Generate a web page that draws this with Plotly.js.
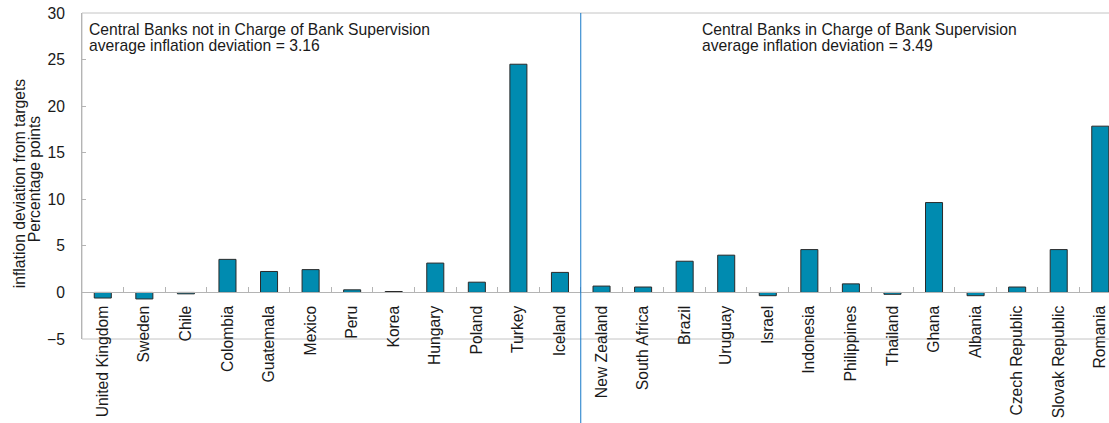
<!DOCTYPE html>
<html>
<head>
<meta charset="utf-8">
<script src="https://cdn.plot.ly/plotly-3.0.1.min.js"></script>
<style>html,body{margin:0;padding:0;background:#fff;overflow:hidden;}</style>
</head>
<body>
<div id="chart" style="width:1109px;height:423px;"></div>
<script>
const countries = ["United Kingdom","Sweden","Chile","Colombia","Guatemala","Mexico","Peru","Korea","Hungary","Poland","Turkey","Iceland",
  "New Zealand","South Africa","Brazil","Uruguay","Israel","Indonesia","Philippines","Thailand","Ghana","Albania","Czech Republic","Slovak Republic","Romania"];
const deviation = [-0.6,-0.7,-0.15,3.55,2.25,2.45,0.28,0.1,3.15,1.1,24.5,2.15,
  0.68,0.58,3.35,4.0,-0.35,4.6,0.92,-0.2,9.65,-0.35,0.58,4.6,17.85];
const yTicks = [-5,0,5,10,15,20,25,30];
const group1Lines = ["Central Banks not in Charge of Bank Supervision","average inflation deviation = 3.16"];
const group2Lines = ["Central Banks in Charge of Bank Supervision","average inflation deviation = 3.49"];
const yTitleLines = ["inflation deviation from targets","Percentage points"];

const FONT = "Liberation Sans, Arial, sans-serif";
const fs = 15.7;
const TXT = "#1a1a1a";

const trace = {
  type: "bar",
  x: countries,
  y: deviation,
  marker: {color: "#008BB0", line: {color: "#2a2a2a", width: 1}},
  hoverinfo: "x+y"
};

function lineAnn(text, x, y) {
  return {text: text, xref: "paper", yref: "paper", x: x, y: y, xanchor: "left", yanchor: "middle",
    showarrow: false, font: {family: FONT, size: fs, color: TXT}};
}
function titleAnn(text, x, y) {
  return {text: text, xref: "paper", yref: "paper", x: x, y: y, xanchor: "center", yanchor: "middle",
    textangle: -90, showarrow: false, font: {family: FONT, size: fs, color: TXT}};
}

const layout = {
  width: 1109, height: 423,
  margin: {l: 82, r: 0, t: 13, b: 84},
  paper_bgcolor: "#fff", plot_bgcolor: "#fff",
  showlegend: false,
  bargap: 0.59,
  font: {family: FONT, size: fs, color: TXT},
  xaxis: {
    type: "category",
    range: [-0.5, 24.21],
    anchor: "free", position: 5/35,
    showline: true, linecolor: "#b4b4b4", linewidth: 1,
    ticks: "inside", tickson: "boundaries", ticklen: 5, tickcolor: "#b4b4b4",
    tickangle: -90, ticklabelstandoff: 6,
    tickfont: {family: FONT, size: fs, color: TXT},
    showgrid: false, zeroline: false, fixedrange: true
  },
  yaxis: {
    range: [-5, 30],
    tickvals: yTicks,
    ticks: "inside", ticklen: 4, tickcolor: "#b4b4b4",
    showline: true, linecolor: "#b4b4b4", linewidth: 1,
    showgrid: false, zeroline: false,
    ticklabelstandoff: 13,
    tickfont: {family: FONT, size: fs, color: TXT},
    fixedrange: true
  },
  shapes: [
    {type: "rect", xref: "paper", yref: "paper", x0: 0, x1: 1.05, y0: 0, y1: 1,
      line: {color: "#c4c4c4", width: 1}, fillcolor: "rgba(0,0,0,0)", layer: "below"},
    {type: "line", xref: "x", yref: "paper", x0: 11.5, x1: 11.5, y0: -0.3, y1: 1,
      line: {color: "#1679C8", width: 1}}
  ],
  annotations: [
    lineAnn(group1Lines[0], 0.0049, 0.948),
    lineAnn(group1Lines[1], 0.0049, 0.901),
    lineAnn(group2Lines[0], 0.6017, 0.948),
    lineAnn(group2Lines[1], 0.6017, 0.901),
    titleAnn(yTitleLines[0], -0.0613, 0.475),
    titleAnn(yTitleLines[1], -0.0467, 0.49)
  ]
};

Plotly.newPlot("chart", [trace], layout, {displayModeBar: false, staticPlot: true});
</script>
</body>
</html>
